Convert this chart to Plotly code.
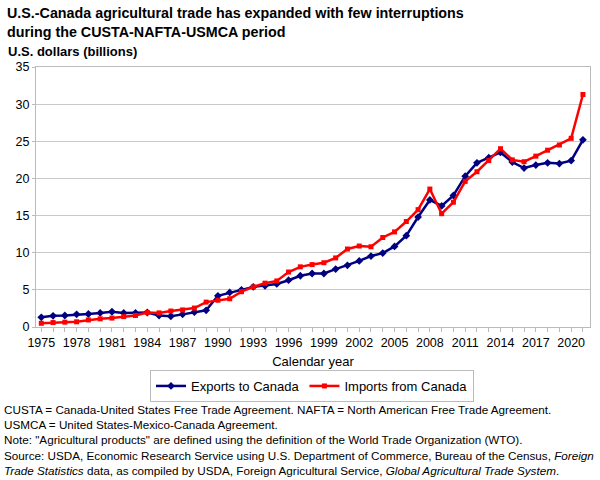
import plotly.graph_objects as go

years = list(range(1975, 2022))
exports = [1.3, 1.5, 1.55, 1.7, 1.75, 1.9, 2.05, 1.9, 1.9, 1.95,
           1.55, 1.45, 1.7, 2.0, 2.25, 4.2, 4.65, 5.0, 5.4, 5.55,
           5.8, 6.3, 6.9, 7.2, 7.2, 7.8, 8.3, 8.9, 9.55, 9.95,
           10.85, 12.3, 14.8, 17.1, 16.3, 17.7, 20.3, 22.1, 22.8, 23.5,
           22.2, 21.4, 21.8, 22.1, 22.0, 22.4, 25.2]
imports = [0.5, 0.6, 0.65, 0.7, 0.95, 1.1, 1.2, 1.4, 1.55, 1.95,
           1.9, 2.15, 2.3, 2.55, 3.35, 3.6, 3.8, 4.75, 5.4, 5.9,
           6.2, 7.4, 8.1, 8.4, 8.65, 9.3, 10.5, 10.9, 10.8, 12.05,
           12.8, 14.2, 15.8, 18.57, 15.25, 16.8, 19.6, 20.9, 22.4, 24.0,
           22.5, 22.25, 23.0, 23.8, 24.5, 25.4, 31.3]
tick_years = list(range(1975, 2021, 3))

FONT = "Liberation Sans, Arial, sans-serif"
BLUE = "#000080"
RED = "#FF0000"

fig = go.Figure()
fig.add_trace(go.Scatter(x=years, y=exports, mode="lines+markers", name="Exports to Canada",
                         line=dict(color=BLUE, width=2.5),
                         marker=dict(symbol="diamond", size=6, color=BLUE)))
fig.add_trace(go.Scatter(x=years, y=imports, mode="lines+markers", name="Imports from Canada",
                         line=dict(color=RED, width=2.5),
                         marker=dict(symbol="square", size=5, color=RED)))

W, HT = 600, 480
L, R, T, B = 36, 10, 67, 153
H = HT - T - B
PW = W - L - R


def py(y):
    return (HT - B - y) / H


def px(x):
    return (x - L) / PW


fig.update_layout(
    width=W, height=HT,
    margin=dict(l=L, r=R, t=T, b=B),
    paper_bgcolor="white", plot_bgcolor="white",
    font=dict(family=FONT, size=13, color="black"),
    showlegend=True,
    legend=dict(orientation="h", x=px(312), xanchor="center", y=py(370), yanchor="top",
                bordercolor="#BBBBBB", borderwidth=1, font=dict(size=13),
                itemwidth=30, tracegroupgap=0),
    xaxis=dict(range=[1974.55, 2021.6], tickvals=tick_years, ticktext=[str(y) for y in tick_years],
               showgrid=False, showline=True, linecolor="#BBBBBB", mirror=True,
               ticks="outside", ticklen=4, tickcolor="#BBBBBB",
               minor=dict(dtick=1, tick0=1975, ticks="outside", ticklen=4, tickcolor="#BBBBBB"),
               tickfont=dict(size=12.5), zeroline=False,
               title=dict(text="Calendar year", font=dict(size=13), standoff=7)),
    yaxis=dict(range=[0, 35], dtick=5, showgrid=True, gridcolor="#C8C8C8", gridwidth=1,
               showline=True, linecolor="#BBBBBB", mirror=True, zeroline=False,
               ticks="outside", ticklen=3, tickcolor="#BBBBBB", tickfont=dict(size=12.5)),
)

ann = []
ann.append(dict(text="<b>U.S.-Canada agricultural trade has expanded with few interruptions<br>during the CUSTA-NAFTA-USMCA period</b>",
                x=px(5), xref="paper", y=py(3), yref="paper", xanchor="left", yanchor="top",
                align="left", showarrow=False, font=dict(size=14.3)))
ann.append(dict(text="<b>U.S. dollars (billions)</b>", x=px(6), y=py(42), xref="paper", yref="paper",
                xanchor="left", yanchor="top", showarrow=False, font=dict(size=13)))
foot = ("CUSTA = Canada-United States Free Trade Agreement. NAFTA = North American Free Trade Agreement.<br>"
        "USMCA = United States-Mexico-Canada Agreement.<br>"
        "Note: \"Agricultural products\" are defined using the definition of the World Trade Organization (WTO).<br>"
        "Source: USDA, Economic Research Service using U.S. Department of Commerce, Bureau of the Census, <i>Foreign</i><br>"
        "<i>Trade Statistics</i> data, as compiled by USDA, Foreign Agricultural Service, <i>Global Agricultural Trade System</i>.")
ann.append(dict(text=foot, x=px(2), y=py(401), xref="paper", yref="paper", xanchor="left", yanchor="top",
                align="left", showarrow=False, font=dict(size=11.7)))
fig.update_layout(annotations=ann)

fig.write_html("out.html", config={"displayModeBar": False},
               post_script="document.body.style.margin='0';")
